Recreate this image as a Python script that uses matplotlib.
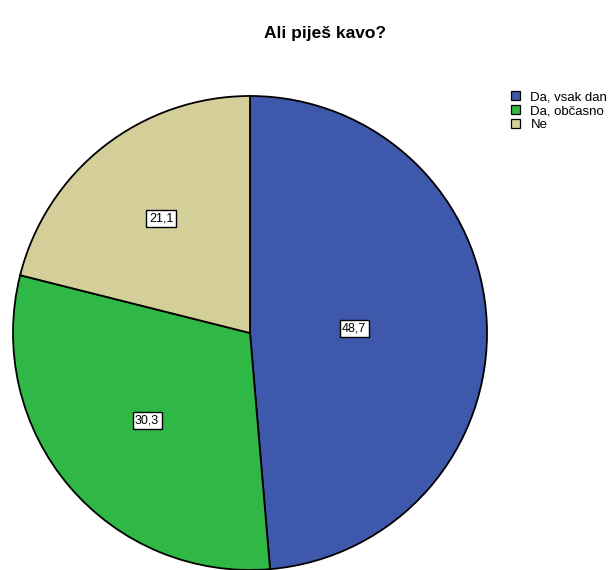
import numpy as np
import matplotlib.pyplot as plt
from matplotlib.patches import Patch

plt.rcParams['font.family'] = ['Liberation Sans', 'DejaVu Sans']

# Data
categories = ["Da, vsak dan", "Da, občasno", "Ne"]
values = [48.7, 30.3, 21.1]
labels = ["48,7", "30,3", "21,1"]
colors = ["#3E58AC", "#2FB845", "#D4CE99"]
label_dist = [0.44, 0.57, 0.61]

fig = plt.figure(figsize=(6.16, 5.70), dpi=100)
ax = fig.add_axes([0.0211, 0.0, 0.7695, 0.8316])

wedges, _ = ax.pie(values, colors=colors, startangle=90, counterclock=False,
                   wedgeprops=dict(edgecolor="black", linewidth=1.3))
ax.set_aspect("equal")
ax.set_xlim(-1.0, 1.0)
ax.set_ylim(-1.0, 1.0)

# Value labels in boxes
for w, lab, d in zip(wedges, labels, label_dist):
    ang = np.deg2rad((w.theta1 + w.theta2) / 2)
    ax.text(d * np.cos(ang), d * np.sin(ang), lab, ha="center", va="center",
            fontsize=9,
            bbox=dict(boxstyle="square,pad=0.2", facecolor="white",
                      edgecolor="black", linewidth=1.0))

fig.text(0.528, 0.942, "Ali piješ kavo?", ha="center", va="center",
         fontsize=12.5, fontweight="bold")

handles = [Patch(facecolor=c, edgecolor="black", linewidth=0.9) for c in colors]
fig.legend(handles, categories, loc="upper left", bbox_to_anchor=(0.829, 0.84),
           frameon=False, fontsize=9.5, handlelength=0.7, handleheight=0.7,
           handletextpad=0.8, labelspacing=0.12, borderaxespad=0, borderpad=0)

fig.savefig("out.png", dpi=100)
